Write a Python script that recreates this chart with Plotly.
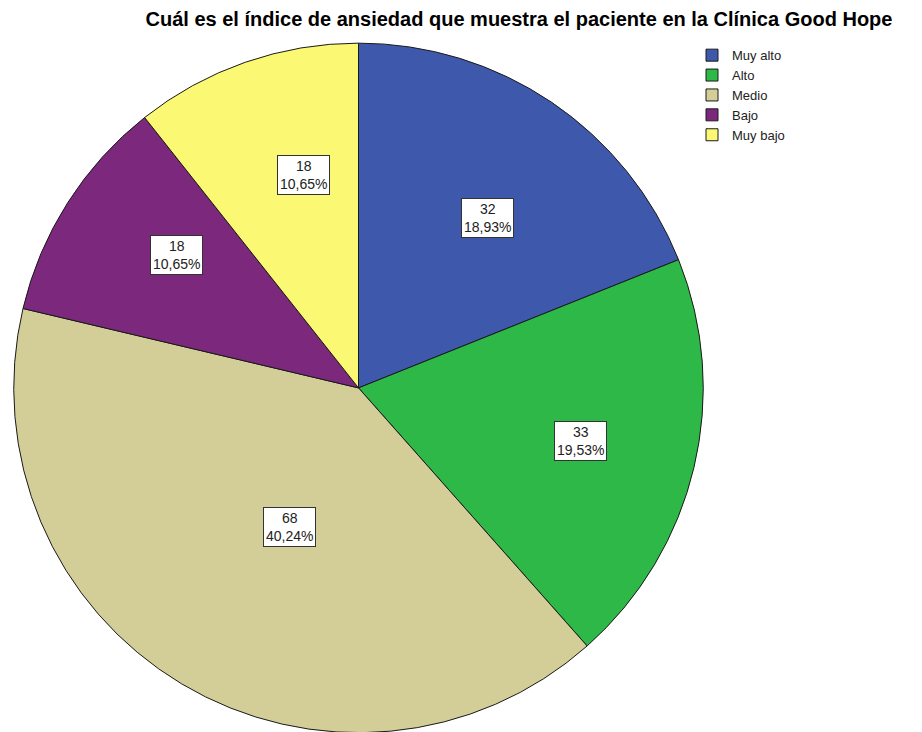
import math
import plotly.graph_objects as go

categorias = ['Muy alto', 'Alto', 'Medio', 'Bajo', 'Muy bajo']
frecuencias = [32, 33, 68, 18, 18]
colores = ['#3E58AC', '#2EB848', '#D3CE97', '#7C287D', '#FBF873']

W, H = 922, 732
dom_x = [2 / W, 699 / W]
dom_y = [0.010, 0.952]

fig = go.Figure(go.Pie(
    labels=categorias, values=frecuencias, sort=False, direction='clockwise', rotation=0,
    marker=dict(colors=colores, line=dict(color='#1a1a1a', width=1)),
    textinfo='none', hoverinfo='label+value+percent',
    domain=dict(x=dom_x, y=dom_y),
))

# etiquetas en recuadro blanco, como en SPSS (las porciones pequeñas llevan la etiqueta más afuera)
total = sum(frecuencias)
cx = (dom_x[0] + dom_x[1]) / 2 * W
cy = (dom_y[0] + dom_y[1]) / 2 * H
radio = min((dom_x[1] - dom_x[0]) * W, (dom_y[1] - dom_y[0]) * H) / 2
acum = 0
for v in frecuencias:
    frac = v / total
    medio = (acum + v / 2) / total * 2 * math.pi
    acum += v
    r = radio * (0.78 - 0.6 * frac)
    x = cx + r * math.sin(medio)
    y = cy + r * math.cos(medio)
    pct = f'{frac * 100:.2f}'.replace('.', ',')
    fig.add_annotation(x=x / W, y=y / H, xref='paper', yref='paper', showarrow=False,
                       text=f'{v}<br>{pct}%', font=dict(family='Arial', size=14, color='#222'),
                       bgcolor='white', bordercolor='#333', borderwidth=1, borderpad=2)

fig.update_layout(
    width=W, height=H, paper_bgcolor='white', plot_bgcolor='white',
    margin=dict(l=0, r=0, t=0, b=0),
    title=dict(text='<b>Cuál es el índice de ansiedad que muestra el paciente en la Clínica Good Hope</b>',
               x=511 / W, xanchor='center', y=1 - 4 / H, yanchor='top',
               font=dict(family='Arial', size=20, color='black')),
    legend=dict(x=684 / W, y=0.956, xanchor='left', yanchor='top', tracegroupgap=0,
                font=dict(family='Arial', size=13, color='#222'), bgcolor='rgba(0,0,0,0)'),
)

fig.write_html('out.html')
